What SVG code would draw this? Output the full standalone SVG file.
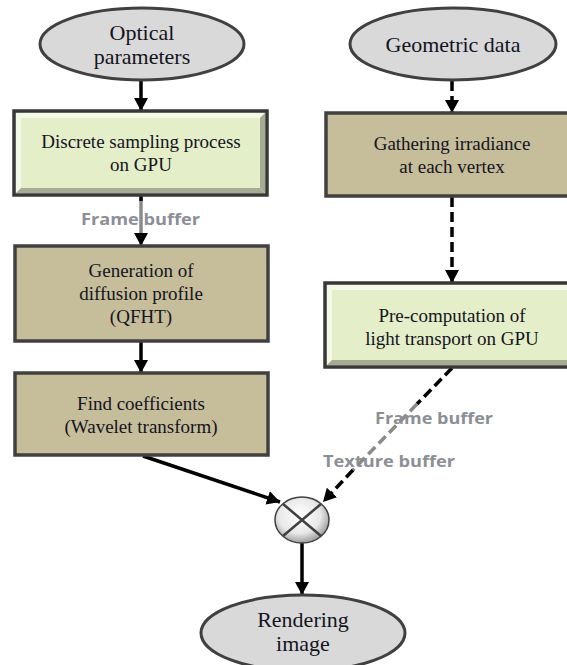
<svg xmlns="http://www.w3.org/2000/svg" width="567" height="665" viewBox="0 0 567 665">
<style>
.ell{fill:#d9d9d9;stroke:#404040;stroke-width:3}
.tan{fill:#c6bd9b;stroke:#404040;stroke-width:3.5}
.grn{fill:#e4eec8;stroke:#383838;stroke-width:3.5}
.hl{fill:#f4f8e6}
.sh{fill:#a7ab93}
.t{fill:#14141e;text-anchor:middle}
.tb{font-size:19px}
.te{font-size:22px}
.lbl{font-weight:bold;font-size:16px;fill:#8b8f96}
.ln{fill:none;stroke:#000;stroke-width:3.5}
.dash{stroke-dasharray:10 5}
.gray{stroke:#8a8a8a}
</style>
<defs>
<marker id="ah" markerUnits="userSpaceOnUse" markerWidth="14" markerHeight="14" refX="13" refY="7" orient="auto">
<path d="M0,0 L13,7 L0,14 z" fill="#000"/>
</marker>
<radialGradient id="cg" cx="0.45" cy="0.4" r="0.65">
<stop offset="0" stop-color="#ffffff"/>
<stop offset="0.6" stop-color="#e8e8e8"/>
<stop offset="1" stop-color="#8c8c8c"/>
</radialGradient>
</defs>

<g id="connectors">
<path class="ln" d="M141,80 L141,111" marker-end="url(#ah)"/>
<path class="ln gray" d="M141,197 L141,246" marker-end="url(#ah)"/>
<path class="ln" d="M141,195 L141,201"/>
<path class="ln" d="M141,341 L141,373" marker-end="url(#ah)"/>
<path class="ln" d="M143,456 L280,502" marker-end="url(#ah)"/>
<path class="ln dash" d="M452,81 L452,113" marker-end="url(#ah)"/>
<path class="ln dash" d="M452,197 L452,283" marker-end="url(#ah)"/>
<path class="ln dash" d="M452,368 L417,404"/>
<path class="ln dash gray" d="M417,404 L353,470"/>
<path class="ln dash" d="M353,470 L323,502" marker-end="url(#ah)"/>
<path class="ln" d="M302,543 L302,595" marker-end="url(#ah)"/>
</g>

<g font-family="Liberation Serif, Times New Roman, serif">
<g id="optical">
<ellipse class="ell" cx="142" cy="44" rx="102" ry="36"/>
<text class="t te" x="142" y="40">Optical</text>
<text class="t te" x="142" y="64">parameters</text>
</g>

<g id="geometric">
<ellipse class="ell" cx="453" cy="44" rx="103" ry="36"/>
<text class="t te" x="453" y="52">Geometric data</text>
</g>

<g id="sampling">
<rect class="grn" x="14" y="111" width="253" height="84"/>
<polygon class="hl" points="16,113 265,113 260,118 21,118"/>
<polygon class="hl" points="16,113 21,118 21,188 16,193"/>
<polygon class="sh" points="16,193 21,188 260,188 265,193"/>
<polygon class="sh" points="265,113 265,193 260,188 260,118"/>
<text class="t tb" x="141" y="148">Discrete sampling  process</text>
<text class="t tb" x="141" y="171">on GPU</text>
</g>

<g id="generation">
<rect class="tan" x="15" y="246" width="253" height="95"/>
<text class="t tb" x="141" y="277">Generation of</text>
<text class="t tb" x="141" y="300">diffusion profile</text>
<text class="t tb" x="141" y="323">(QFHT)</text>
</g>

<g id="coefficients">
<rect class="tan" x="15" y="373" width="253" height="82"/>
<text class="t tb" x="141" y="410">Find coefficients</text>
<text class="t tb" x="141" y="433">(Wavelet transform)</text>
</g>

<g id="gathering">
<rect class="tan" x="326" y="113" width="252" height="83"/>
<text class="t tb" x="452" y="150">Gathering irradiance</text>
<text class="t tb" x="452" y="173">at each vertex</text>
</g>

<g id="precomputation">
<rect class="grn" x="325" y="283" width="255" height="84"/>
<polygon class="hl" points="327,285 578,285 573,290 332,290"/>
<polygon class="hl" points="327,285 332,290 332,360 327,365"/>
<polygon class="sh" points="327,365 332,360 573,360 578,365"/>
<text class="t tb" x="452" y="322">Pre-computation of</text>
<text class="t tb" x="452" y="345">light transport on GPU</text>
</g>

<g id="multiply">
<ellipse cx="302" cy="520" rx="27" ry="23" fill="url(#cg)" stroke="#404040" stroke-width="1.5"/>
<path d="M283,504 L321,536 M321,504 L283,536" stroke="#404040" stroke-width="2.5" fill="none"/>
</g>

<g id="rendering">
<ellipse class="ell" cx="303" cy="633" rx="102" ry="38"/>
<text class="t te" x="303" y="627">Rendering</text>
<text class="t te" x="303" y="651">image</text>
</g>
</g>

<g id="labels" font-family="Open Sans, Liberation Sans, sans-serif">
<text class="lbl" x="81" y="225" textLength="119" lengthAdjust="spacingAndGlyphs">Frame buffer</text>
<text class="lbl" x="375" y="424" textLength="118" lengthAdjust="spacingAndGlyphs">Frame buffer</text>
<text class="lbl" x="323" y="467" textLength="132" lengthAdjust="spacingAndGlyphs">Texture buffer</text>
</g>
</svg>
